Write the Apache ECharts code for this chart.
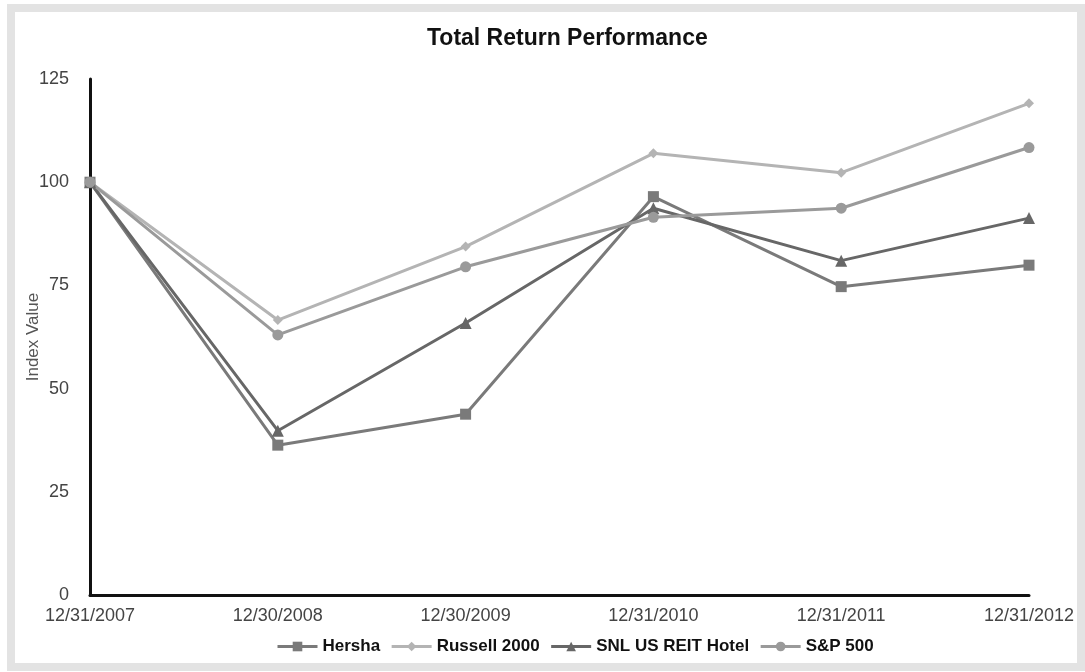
<!DOCTYPE html>
<html>
<head>
<meta charset="utf-8">
<script src="https://cdn.jsdelivr.net/npm/echarts@6/dist/echarts.min.js"></script>
<style>
html,body{margin:0;padding:0;background:#fff;}
#wrap{position:relative;width:1085px;height:672px;overflow:hidden;}
#frame{position:absolute;left:7px;top:4px;width:1062px;height:651px;border:8px solid #e3e3e3;box-sizing:content-box;}
#chart{position:absolute;left:0;top:0;width:1085px;height:672px;}
</style>
</head>
<body>
<div id="wrap"><div id="frame"></div><div id="chart"></div></div>
<script>
var categories = ['12/31/2007','12/30/2008','12/30/2009','12/31/2010','12/31/2011','12/31/2012'];
var hersha = [100, 36.3, 43.8, 96.5, 74.7, 79.9];
var russell = [100, 66.6, 84.4, 107.0, 102.3, 119.1];
var snl = [100, 39.8, 65.9, 93.7, 81.0, 91.3];
var sp500 = [100, 63.0, 79.5, 91.5, 93.7, 108.4];

var chart = echarts.init(document.getElementById('chart'));
function s(name, data, color, symbol, size){
  return {name:name, type:'line', data:data, symbol:symbol, symbolSize:size,
    lineStyle:{color:color, width:3}, itemStyle:{color:color}, z: 3};
}
chart.setOption({
  animation:false,
  title:{text:'Total Return Performance', left:422, top:22,
    textStyle:{fontFamily:'Liberation Sans', fontSize:23, fontWeight:'bold', color:'#111'}},
  legend:{top:633, left:271, itemWidth:40, itemHeight:12, itemGap:10,
    lineStyle:{width:3},
    textStyle:{fontFamily:'Liberation Sans', fontSize:17, fontWeight:'bold', color:'#111'},
    data:['Hersha','Russell 2000','SNL US REIT Hotel','S&P 500']},
  grid:{left:90, right:56, top:79, bottom:77},
  xAxis:{type:'category', data:categories, boundaryGap:false,
    axisLine:{lineStyle:{color:'#111', width:3}}, axisTick:{show:false},
    axisLabel:{fontFamily:'Liberation Sans', fontSize:18, color:'#444', margin:12, showMaxLabel:true, showMinLabel:true, interval:0},
    splitLine:{show:false}},
  yAxis:{type:'value', min:0, max:125, interval:25, name:'Index Value', nameLocation:'middle', nameGap:48,
    nameMoveOverlap:false,
    nameTextStyle:{fontFamily:'Liberation Sans', fontSize:17, color:'#555'},
    axisLine:{show:true, lineStyle:{color:'#111', width:3}}, axisTick:{show:false},
    axisLabel:{fontFamily:'Liberation Sans', fontSize:18, color:'#444', margin:21},
    splitLine:{show:false}},
  series:[
    s('Hersha', hersha, '#7a7a7a', 'rect', 11),
    s('Russell 2000', russell, '#b4b4b4', 'diamond', 10),
    s('SNL US REIT Hotel', snl, '#676767', 'triangle', 12),
    s('S&P 500', sp500, '#9a9a9a', 'circle', 11)
  ]
});
</script>
</body>
</html>
